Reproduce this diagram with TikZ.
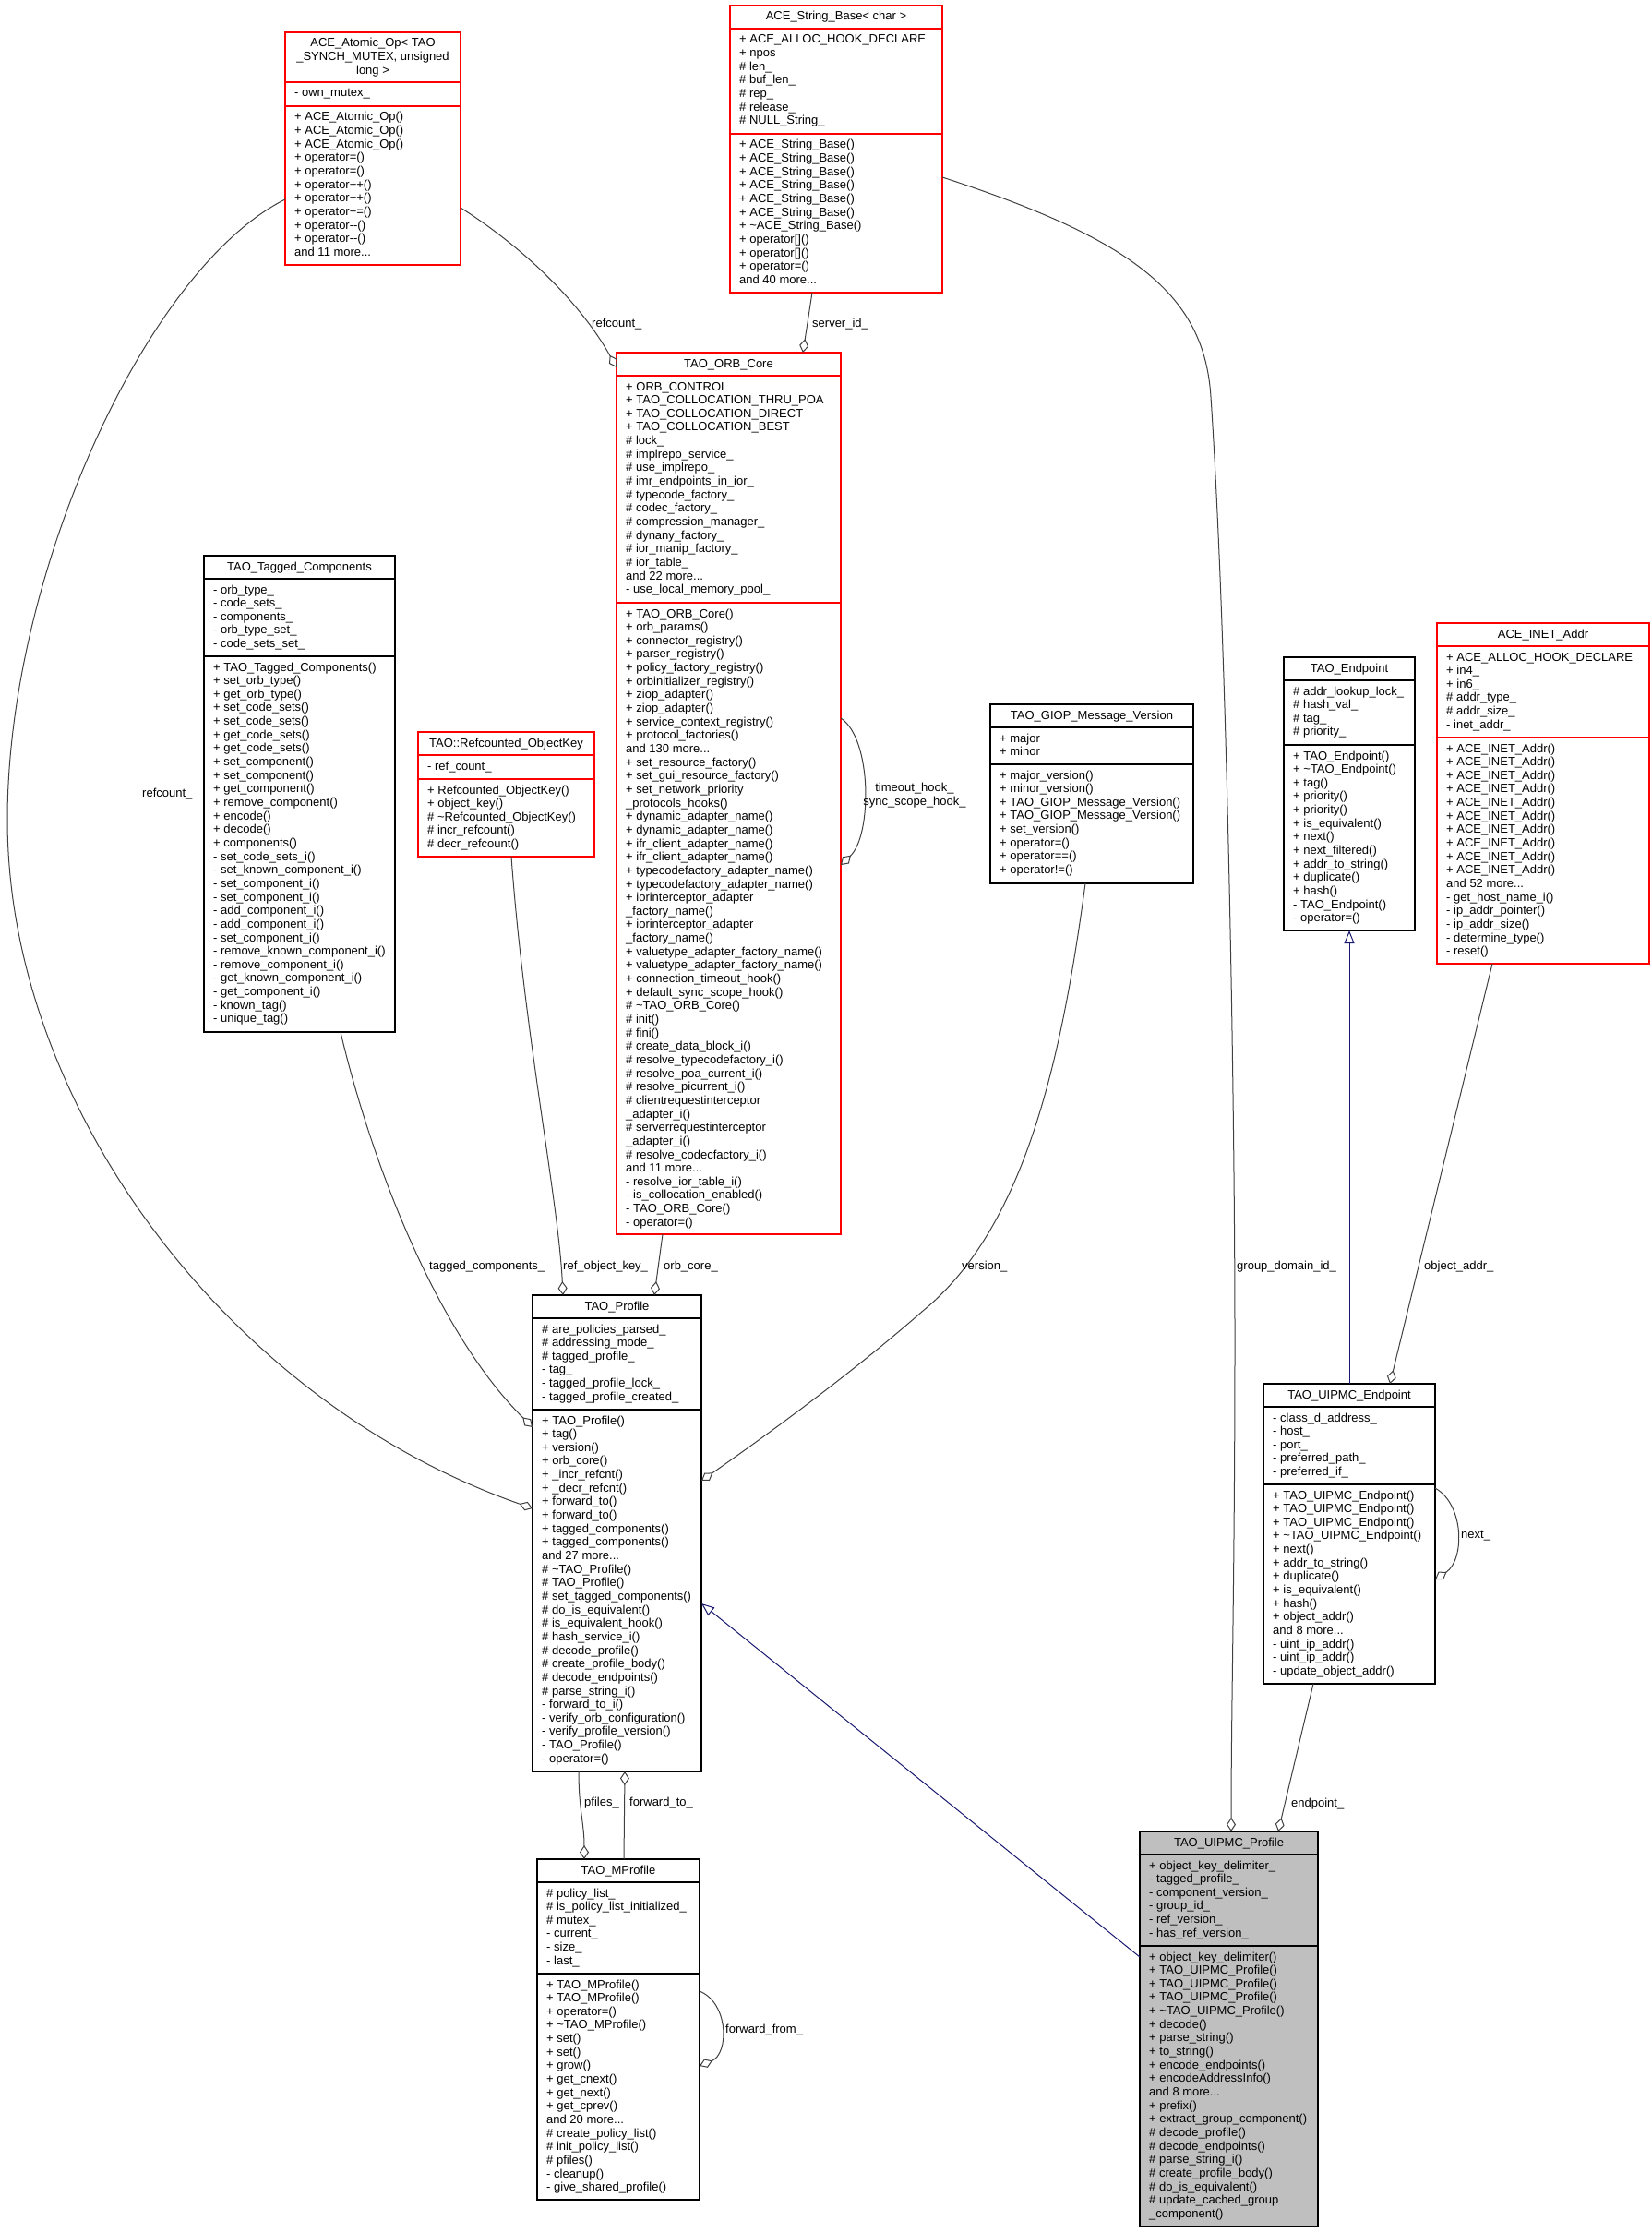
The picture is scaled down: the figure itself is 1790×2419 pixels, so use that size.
\documentclass[tikz,border=0pt]{standalone}
\usepackage{fontspec}
\setmainfont{Liberation Sans}
\usetikzlibrary{arrows.meta,calc}
\definecolor{edgegray}{HTML}{404040}
\definecolor{navyedge}{HTML}{191970}
\definecolor{boxred}{HTML}{FF0000}
\definecolor{fillgray}{HTML}{BFBFBF}
\tikzset{
  fnt/.style={font=\fontsize{13}{14.65}\selectfont},
  box/.style={draw, line width=1.4pt, fill=white, inner sep=0pt, outer sep=0pt},
  redbox/.style={draw=boxred},
  blackbox/.style={draw=black},
  graybox/.style={draw=black, fill=fillgray},
  sepline/.style={line width=1.4pt},
  ctext/.style={fnt, anchor=base, inner sep=0pt},
  ltext/.style={fnt, anchor=base west, inner sep=0pt},
  lbl/.style={fnt, anchor=base west, inner sep=0pt},
  lblc/.style={fnt, anchor=base, inner sep=0pt},
  agg/.style={draw=edgegray, line width=1pt, -{Diamond[open,length=15pt,width=10pt]}},
  inh/.style={draw=navyedge, line width=1pt, -{Triangle[open,length=14pt,width=11pt]}},
}
\newcommand\mre{more.{}.{}.}
\newcommand\countitems[2]{\gdef#1{0}\foreach \xitem in {#2}{\xdef#1{\number\numexpr#1+1\relax}}}
\newcommand\umlclass[8]{%
  \countitems\nT{#6}\countitems\nA{#7}\countitems\nM{#8}%
  \pgfmathsetmacro\hT{\nT*14.65+10.5}%
  \pgfmathsetmacro\hA{\nA*14.65+11}%
  \pgfmathsetmacro\hM{\nM*14.65+11}%
  \pgfmathsetmacro\hH{round(\hT+\hA+\hM)}%
  \pgfmathsetmacro\yA{round(#3+\hT)}%
  \pgfmathsetmacro\yM{round(#3+\hT+\hA)}%
  \node[box,#5,minimum width=#4,minimum height=\hH,anchor=north west] (#1) at (#2,#3) {};
  \draw[sepline,#5] (#2,\yA) -- ++(#4,0);
  \draw[sepline,#5] (#2,\yM) -- ++(#4,0);
  \foreach \txt [count=\i from 0] in {#6} {\node[ctext] (#1-t\i) at ({#2+#4/2},{#3+16+\i*14.65}) {\txt};}
  \foreach \txt [count=\i from 0] in {#7} {\node[ltext] (#1-a\i) at ({#2+10},{\yA+16+\i*14.65}) {\txt};}
  \foreach \txt [count=\i from 0] in {#8} {\node[ltext] (#1-m\i) at ({#2+10},{\yM+16+\i*14.65}) {\txt};}
}
\begin{document}
\catcode`\_=12
\begin{tikzpicture}[x=1pt,y=-1pt]
\fill[white] (0,0) rectangle (1790,2419);
\useasboundingbox (0,0) rectangle (1790,2419);

% ---------- classes ----------
\umlclass{atomic}{309}{35}{190}{redbox}%
{ACE_Atomic_Op< TAO,{_SYNCH_MUTEX, unsigned},long >}%
{- own_mutex_}%
{+ ACE_Atomic_Op(),+ ACE_Atomic_Op(),+ ACE_Atomic_Op(),+ operator=(),+ operator=(),+ operator++(),+ operator++(),+ operator+=(),+ operator-{}-(),+ operator-{}-(),and 11 \mre}

\umlclass{strbase}{791}{6}{230}{redbox}%
{ACE_String_Base< char >}%
{+ ACE_ALLOC_HOOK_DECLARE,+ npos,\# len_,\# buf_len_,\# rep_,\# release_,\# NULL_String_}%
{+ ACE_String_Base(),+ ACE_String_Base(),+ ACE_String_Base(),+ ACE_String_Base(),+ ACE_String_Base(),+ ACE_String_Base(),+ \textasciitilde ACE_String_Base(),+ operator[](),+ operator[](),+ operator=(),and 40 \mre}

\umlclass{orb}{668}{382}{243}{redbox}%
{TAO_ORB_Core}%
{+ ORB_CONTROL,+ TAO_COLLOCATION_THRU_POA,+ TAO_COLLOCATION_DIRECT,+ TAO_COLLOCATION_BEST,\# lock_,\# implrepo_service_,\# use_implrepo_,\# imr_endpoints_in_ior_,\# typecode_factory_,\# codec_factory_,\# compression_manager_,\# dynany_factory_,\# ior_manip_factory_,\# ior_table_,and 22 \mre,- use_local_memory_pool_}%
{+ TAO_ORB_Core(),+ orb_params(),+ connector_registry(),+ parser_registry(),+ policy_factory_registry(),+ orbinitializer_registry(),+ ziop_adapter(),+ ziop_adapter(),+ service_context_registry(),+ protocol_factories(),and 130 \mre,+ set_resource_factory(),+ set_gui_resource_factory(),+ set_network_priority,_protocols_hooks(),+ dynamic_adapter_name(),+ dynamic_adapter_name(),+ ifr_client_adapter_name(),+ ifr_client_adapter_name(),+ typecodefactory_adapter_name(),+ typecodefactory_adapter_name(),+ iorinterceptor_adapter,_factory_name(),+ iorinterceptor_adapter,_factory_name(),+ valuetype_adapter_factory_name(),+ valuetype_adapter_factory_name(),+ connection_timeout_hook(),+ default_sync_scope_hook(),\# \textasciitilde TAO_ORB_Core(),\# init(),\# fini(),\# create_data_block_i(),\# resolve_typecodefactory_i(),\# resolve_poa_current_i(),\# resolve_picurrent_i(),\# clientrequestinterceptor,_adapter_i(),\# serverrequestinterceptor,_adapter_i(),\# resolve_codecfactory_i(),and 11 \mre,- resolve_ior_table_i(),- is_collocation_enabled(),- TAO_ORB_Core(),- operator=()}

\umlclass{tagged}{221}{602}{207}{blackbox}%
{TAO_Tagged_Components}%
{- orb_type_,- code_sets_,- components_,- orb_type_set_,- code_sets_set_}%
{+ TAO_Tagged_Components(),+ set_orb_type(),+ get_orb_type(),+ set_code_sets(),+ set_code_sets(),+ get_code_sets(),+ get_code_sets(),+ set_component(),+ set_component(),+ get_component(),+ remove_component(),+ encode(),+ decode(),+ components(),- set_code_sets_i(),- set_known_component_i(),- set_component_i(),- set_component_i(),- add_component_i(),- add_component_i(),- set_component_i(),- remove_known_component_i(),- remove_component_i(),- get_known_component_i(),- get_component_i(),- known_tag(),- unique_tag()}

\umlclass{refobj}{453}{793}{191}{redbox}%
{TAO::Refcounted_ObjectKey}%
{- ref_count_}%
{+ Refcounted_ObjectKey(),+ object_key(),\# \textasciitilde Refcounted_ObjectKey(),\# incr_refcount(),\# decr_refcount()}

\umlclass{giop}{1073}{763}{220}{blackbox}%
{TAO_GIOP_Message_Version}%
{+ major,+ minor}%
{+ major_version(),+ minor_version(),+ TAO_GIOP_Message_Version(),+ TAO_GIOP_Message_Version(),+ set_version(),+ operator=(),+ operator==(),+ operator!=()}

\umlclass{endpt}{1391}{712}{142}{blackbox}%
{TAO_Endpoint}%
{\# addr_lookup_lock_,\# hash_val_,\# tag_,\# priority_}%
{+ TAO_Endpoint(),+ \textasciitilde TAO_Endpoint(),+ tag(),+ priority(),+ priority(),+ is_equivalent(),+ next(),+ next_filtered(),+ addr_to_string(),+ duplicate(),+ hash(),- TAO_Endpoint(),- operator=()}

\umlclass{inet}{1557}{675}{230}{redbox}%
{ACE_INET_Addr}%
{+ ACE_ALLOC_HOOK_DECLARE,+ in4_,+ in6_,\# addr_type_,\# addr_size_,- inet_addr_}%
{+ ACE_INET_Addr(),+ ACE_INET_Addr(),+ ACE_INET_Addr(),+ ACE_INET_Addr(),+ ACE_INET_Addr(),+ ACE_INET_Addr(),+ ACE_INET_Addr(),+ ACE_INET_Addr(),+ ACE_INET_Addr(),+ ACE_INET_Addr(),and 52 \mre,- get_host_name_i(),- ip_addr_pointer(),- ip_addr_size(),- determine_type(),- reset()}

\umlclass{profile}{577}{1403}{183}{blackbox}%
{TAO_Profile}%
{\# are_policies_parsed_,\# addressing_mode_,\# tagged_profile_,- tag_,- tagged_profile_lock_,- tagged_profile_created_}%
{+ TAO_Profile(),+ tag(),+ version(),+ orb_core(),+ _incr_refcnt(),+ _decr_refcnt(),+ forward_to(),+ forward_to(),+ tagged_components(),+ tagged_components(),and 27 \mre,\# \textasciitilde TAO_Profile(),\# TAO_Profile(),\# set_tagged_components(),\# do_is_equivalent(),\# is_equivalent_hook(),\# hash_service_i(),\# decode_profile(),\# create_profile_body(),\# decode_endpoints(),\# parse_string_i(),- forward_to_i(),- verify_orb_configuration(),- verify_profile_version(),- TAO_Profile(),- operator=()}

\umlclass{mprofile}{582}{2014}{176}{blackbox}%
{TAO_MProfile}%
{\# policy_list_,\# is_policy_list_initialized_,\# mutex_,- current_,- size_,- last_}%
{+ TAO_MProfile(),+ TAO_MProfile(),+ operator=(),+ \textasciitilde TAO_MProfile(),+ set(),+ set(),+ grow(),+ get_cnext(),+ get_next(),+ get_cprev(),and 20 \mre,\# create_policy_list(),\# init_policy_list(),\# pfiles(),- cleanup(),- give_shared_profile()}

\umlclass{uend}{1369}{1499}{186}{blackbox}%
{TAO_UIPMC_Endpoint}%
{- class_d_address_,- host_,- port_,- preferred_path_,- preferred_if_}%
{+ TAO_UIPMC_Endpoint(),+ TAO_UIPMC_Endpoint(),+ TAO_UIPMC_Endpoint(),+ \textasciitilde TAO_UIPMC_Endpoint(),+ next(),+ addr_to_string(),+ duplicate(),+ is_equivalent(),+ hash(),+ object_addr(),and 8 \mre,- uint_ip_addr(),- uint_ip_addr(),- update_object_addr()}

\umlclass{uprof}{1235}{1984}{193}{graybox}%
{TAO_UIPMC_Profile}%
{+ object_key_delimiter_,- tagged_profile_,- component_version_,- group_id_,- ref_version_,- has_ref_version_}%
{+ object_key_delimiter(),+ TAO_UIPMC_Profile(),+ TAO_UIPMC_Profile(),+ TAO_UIPMC_Profile(),+ \textasciitilde TAO_UIPMC_Profile(),+ decode(),+ parse_string(),+ to_string(),+ encode_endpoints(),+ encodeAddressInfo(),and 8 \mre,+ prefix(),+ extract_group_component(),\# decode_profile(),\# decode_endpoints(),\# parse_string_i(),\# create_profile_body(),\# do_is_equivalent(),\# update_cached_group,_component()}

% ---------- connectors ----------
\draw[agg] ($(atomic.north east)+(0,190)$) .. controls (570,270) and (630,330) .. ($(orb.north west)+(0,16)$);
\draw[agg] ($(atomic.north west)+(0,181)$) .. controls (160,290) and (8,620) .. (8,888) .. controls (8,1200) and (250,1520) .. ($(profile.north west)+(0,231)$);
\draw[agg] ($(strbase.south west)+(89,0)$) -- ($(orb.north west)+(202,0)$);
\draw[agg] ($(strbase.north east)+(0,186)$) .. controls (1230,260) and (1305,320) .. (1312,430) .. controls (1330,700) and (1338,1200) .. (1338,1450) .. controls (1338,1700) and (1334,1850) .. ($(uprof.north west)+(99,0)$);
\draw[agg] ($(tagged.south west)+(148,0)$) .. controls (400,1250) and (470,1440) .. ($(profile.north west)+(0,143)$);
\draw[agg] ($(refobj.south west)+(101,0)$) .. controls (568,1120) and (605,1300) .. ($(profile.north west)+(33,0)$);
\draw[agg] ($(orb.south west)+(50,0)$) -- ($(profile.north west)+(132,0)$);
\draw[agg] ($(orb.north east)+(0,396)$) .. controls (945,800) and (945,905) .. ($(orb.north east)+(0,555)$);
\draw[agg] ($(giop.south west)+(103,0)$) .. controls (1150,1150) and (1110,1330) .. (1000,1420) .. controls (920,1490) and (830,1555) .. ($(profile.north east)+(0,201)$);
\draw[agg] ($(profile.south west)+(50,0)$) .. controls (627,1960) and (633,1975) .. ($(mprofile.north west)+(51,0)$);
\draw[agg] ($(mprofile.north west)+(94,0)$) -- ($(profile.south west)+(100,0)$);
\draw[agg] ($(mprofile.north east)+(0,143)$) .. controls (790,2170) and (790,2225) .. ($(mprofile.north east)+(0,224)$);
\draw[inh] (uend.north) -- (endpt.south);
\draw[agg] ($(inet.south west)+(60,0)$) -- ($(uend.north west)+(137,0)$);
\draw[agg] ($(uend.north east)+(0,113)$) .. controls (1587,1630) and (1587,1690) .. ($(uend.north east)+(0,212)$);
\draw[agg] ($(uend.south west)+(54,0)$) -- ($(uprof.north west)+(150,0)$);
\draw[inh] ($(uprof.north west)+(0,136)$) -- ($(profile.north east)+(0,334)$);

% ---------- connector labels ----------
\node[lbl] (l-refc1) at (641,354) {refcount_};
\node[lbl] (l-sid) at (880,354) {server_id_};
\node[lbl] (l-refc2) at (154,863) {refcount_};
\node[lbl] (l-tagc) at (465,1375) {tagged_components_};
\node[lbl] (l-rok) at (610,1375) {ref_object_key_};
\node[lbl] (l-orbc) at (719,1375) {orb_core_};
\node[lbl] (l-ver) at (1042,1375) {version_};
\node[lbl] (l-gdid) at (1340,1375) {group_domain_id_};
\node[lbl] (l-oaddr) at (1543,1375) {object_addr_};
\node[lblc] (l-th) at (991,857) {timeout_hook_};
\node[lblc] (l-ssh) at (991,872) {sync_scope_hook_};
\node[lbl] (l-pf) at (633,1956) {pfiles_};
\node[lbl] (l-fwt) at (682,1956) {forward_to_};
\node[lbl] (l-fwf) at (786,2202) {forward_from_};
\node[lbl] (l-next) at (1583,1666) {next_};
\node[lbl] (l-ep) at (1399,1957) {endpoint_};
\end{tikzpicture}
\end{document}
